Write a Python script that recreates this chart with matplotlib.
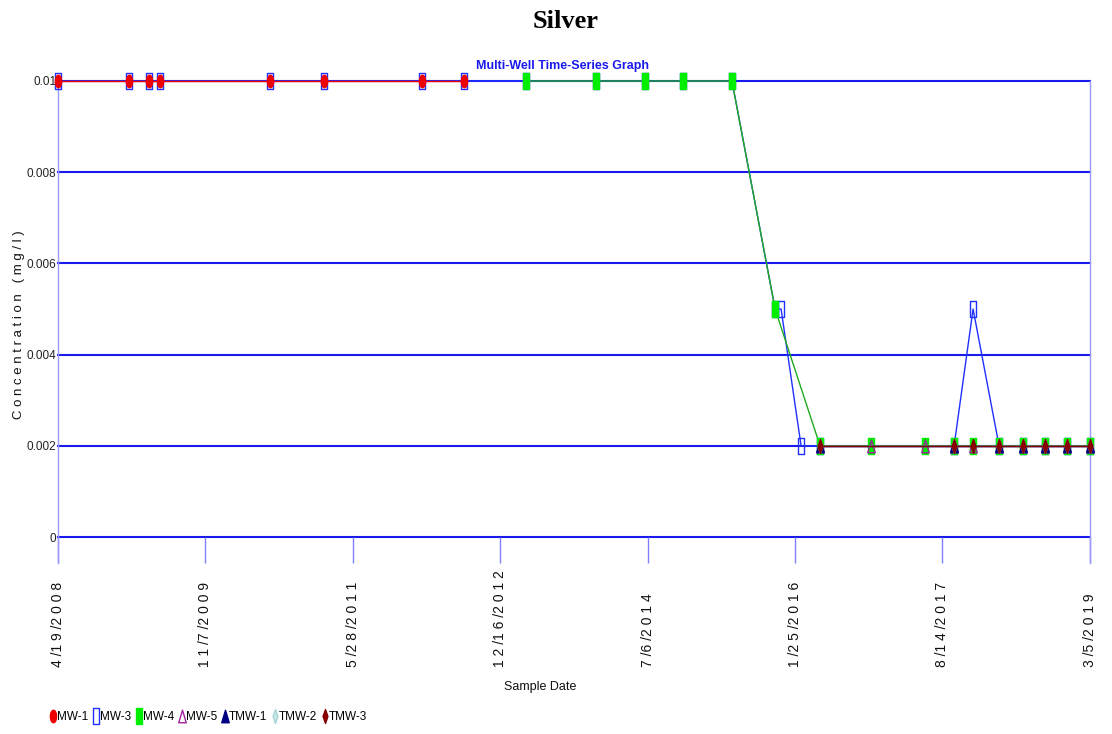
import numpy as np
import pandas as pd
import matplotlib
matplotlib.use("Agg")
import matplotlib.pyplot as plt
from matplotlib.path import Path
from matplotlib.lines import Line2D
from matplotlib.transforms import blended_transform_factory

# ---- data -------------------------------------------------------------
mw1_dates = ["2008-04-19", "2009-01-17", "2009-04-04", "2009-05-16",
             "2010-07-14", "2011-02-07", "2012-02-19", "2012-07-30"]
mw1_vals = [0.01, 0.01, 0.01, 0.01, 0.01, 0.01, 0.01, 0.01]

mw3_dates = ["2008-04-19", "2009-01-17", "2009-04-04", "2009-05-16",
             "2010-07-14", "2011-02-07", "2012-02-19", "2012-07-30",
             "2013-03-25", "2013-12-20", "2014-06-26", "2014-11-20",
             "2015-05-27", "2015-11-09", "2015-12-02", "2016-02-17",
             "2016-04-30", "2017-09-28", "2017-12-10", "2018-03-20",
             "2018-06-20", "2018-09-13", "2018-12-07", "2019-03-05"]
mw3_vals = [0.01, 0.01, 0.01, 0.01, 0.01, 0.01, 0.01, 0.01,
            0.01, 0.01, 0.01, 0.01, 0.01, 0.005, 0.005, 0.002,
            0.002, 0.002, 0.005, 0.002, 0.002, 0.002, 0.002, 0.002]

mw4_dates = ["2013-03-25", "2013-12-20", "2014-06-26", "2014-11-20",
             "2015-05-27", "2015-11-09", "2016-04-30", "2016-11-12",
             "2017-06-08", "2017-09-28", "2017-12-10", "2018-03-20",
             "2018-06-20", "2018-09-13", "2018-12-07", "2019-03-05"]
mw4_vals = [0.01, 0.01, 0.01, 0.01, 0.01, 0.005, 0.002, 0.002,
            0.002, 0.002, 0.002, 0.002, 0.002, 0.002, 0.002, 0.002]

mw5_dates = ["2016-04-30", "2016-11-12", "2017-06-08", "2017-09-28",
             "2017-12-10", "2018-03-20", "2018-06-20", "2018-09-13",
             "2018-12-07", "2019-03-05"]
mw5_vals = [0.002] * 10

tmw1_dates = ["2016-04-30", "2017-09-28", "2018-03-20", "2018-06-20",
              "2018-09-13", "2018-12-07", "2019-03-05"]
tmw1_vals = [0.002] * 7

tmw2_dates = ["2016-04-30", "2017-09-28", "2018-03-20", "2018-06-20",
              "2018-09-13", "2018-12-07", "2019-03-05"]
tmw2_vals = [0.002] * 7

tmw3_dates = ["2016-04-30", "2017-09-28", "2017-12-10", "2018-03-20",
              "2018-06-20", "2018-09-13", "2018-12-07", "2019-03-05"]
tmw3_vals = [0.002] * 8

x_tick_dates = ["2008-04-19", "2009-11-07", "2011-05-28", "2012-12-16",
                "2014-07-06", "2016-01-25", "2017-08-14", "2019-03-05"]
x_tick_labels = ["4/19/2008", "11/7/2009", "5/28/2011", "12/16/2012",
                 "7/6/2014", "1/25/2016", "8/14/2017", "3/5/2019"]
y_ticks = [0, 0.002, 0.004, 0.006, 0.008, 0.01]
y_tick_labels = ["0", "0.002", "0.004", "0.006", "0.008", "0.01"]

# ---- fonts ------------------------------------------------------------
NARROW = ["Liberation Sans Narrow", "Liberation Sans", "DejaVu Sans"]
plt.rcParams["font.family"] = NARROW

# ---- marker shapes ----------------------------------------------------
def poly(pts):
    pts = list(pts) + [pts[0]]
    codes = [Path.MOVETO] + [Path.LINETO] * (len(pts) - 2) + [Path.CLOSEPOLY]
    return Path(pts, codes)

t = np.linspace(0, 2 * np.pi, 40, endpoint=False)
ellipse_m = poly(list(zip(0.5 * np.cos(t), np.sin(t))))
rect_m = poly([(-0.45, -1), (0.45, -1), (0.45, 1), (-0.45, 1)])
tri_m = poly([(-0.6, -1), (0.6, -1), (0, 1)])
diam_m = poly([(0, -1), (0.35, 0), (0, 1), (-0.35, 0)])

series = [
    ("MW-1", mw1_dates, mw1_vals, dict(color="#ee0000", marker=ellipse_m, ms=9,
                                        mfc="#ee0000", mec="#ee0000")),
    ("MW-3", mw3_dates, mw3_vals, dict(color="#2030ff", marker=rect_m, ms=11,
                                        mfc="none", mec="#2030ff")),
    ("MW-4", mw4_dates, mw4_vals, dict(color="#1faa1f", marker=rect_m, ms=11,
                                        mfc="#00ee00", mec="#00ee00")),
    ("MW-5", mw5_dates, mw5_vals, dict(color="#a020a0", marker=tri_m, ms=9,
                                        mfc="none", mec="#a020a0")),
    ("TMW-1", tmw1_dates, tmw1_vals, dict(color="#000080", marker=tri_m, ms=9,
                                           mfc="#000080", mec="#000080")),
    ("TMW-2", tmw2_dates, tmw2_vals, dict(color="#a8d4d4", marker=diam_m, ms=10,
                                           mfc="#c8e8e8", mec="#a8d4d4")),
    ("TMW-3", tmw3_dates, tmw3_vals, dict(color="#800000", marker=diam_m, ms=10,
                                           mfc="#900000", mec="#800000")),
]
# MW-3 sits underneath the green MW-4 trace on the falling segment
zorders = {"MW-1": 4, "MW-3": 3, "MW-4": 3.5, "MW-5": 5, "TMW-1": 6,
           "TMW-2": 7, "TMW-3": 8}

# ---- figure -----------------------------------------------------------
W, H = 1112, 734
fig = plt.figure(figsize=(W / 100, H / 100), dpi=100)
ax = fig.add_axes([58 / W, 1 - 563 / H, 1032 / W, 482 / H])

for y in y_ticks:
    ax.axhline(y, color="#1a1aee", lw=1.5, zorder=1, clip_on=False)

for name, d, v, st in series:
    ax.plot(pd.to_datetime(d), v, lw=1.0, clip_on=False, zorder=zorders[name],
            color=st["color"], marker=st["marker"], markersize=st["ms"],
            markerfacecolor=st["mfc"], markeredgecolor=st["mec"],
            markeredgewidth=1.0)

xt = pd.to_datetime(x_tick_dates)
ax.set_xlim(xt[0], xt[-1])
ax.set_ylim(-0.00057, 0.01)

for s in ("top", "bottom"):
    ax.spines[s].set_visible(False)
for s in ("left", "right"):
    ax.spines[s].set_color("#9999ff")
    ax.spines[s].set_linewidth(1.0)

ax.set_xticks(xt)
ax.set_xticklabels([])
ax.tick_params(axis="x", direction="in", length=18.7, width=1.0,
               color="#8080ff")
ax.set_yticks(y_ticks)
ax.set_yticklabels(y_tick_labels)
ax.tick_params(axis="y", length=0, pad=1, labelsize=8.5, labelcolor="#222222")

# rotated, letter-spaced date labels, all starting from a common baseline
tr = blended_transform_factory(ax.transData, fig.transFigure)
for d, lab in zip(xt, x_tick_labels):
    spaced = " ".join(lab).replace("/ ", "/")
    ax.text(d, 1 - 667 / H, spaced, transform=tr, rotation=90,
            ha="center", va="bottom", fontsize=10, color="#111111")

fig.text(566 / W, 1 - 22 / H, "Silver", ha="center", va="center",
         fontsize=19, fontweight="bold",
         family=["Liberation Serif", "DejaVu Serif"])
fig.text(562 / W, 1 - 66 / H, "Multi-Well Time-Series Graph", ha="center",
         va="center", fontsize=9, fontweight="bold", color="#1a1aee")
fig.text(19 / W, 1 - 325 / H, " ".join("Concentration") + "   ( m g / l )",
         rotation=90, ha="center", va="center", fontsize=9.5, color="#111111")
fig.text(540 / W, 1 - 687 / H, "Sample Date", ha="center", va="center",
         fontsize=9, color="#111111")

handles = [Line2D([], [], ls="none", marker=st["marker"], markersize=st["ms"],
                  markerfacecolor=st["mfc"], markeredgecolor=st["mec"])
           for _, _, _, st in series]
fig.legend(handles, [s[0] for s in series], loc="center left",
           bbox_to_anchor=(49 / W, 1 - 717 / H), ncol=7, frameon=False,
           handlelength=0.6, handletextpad=0.05, columnspacing=0.35,
           fontsize=8.5, borderpad=0, borderaxespad=0)

fig.savefig("out.png", dpi=100)
